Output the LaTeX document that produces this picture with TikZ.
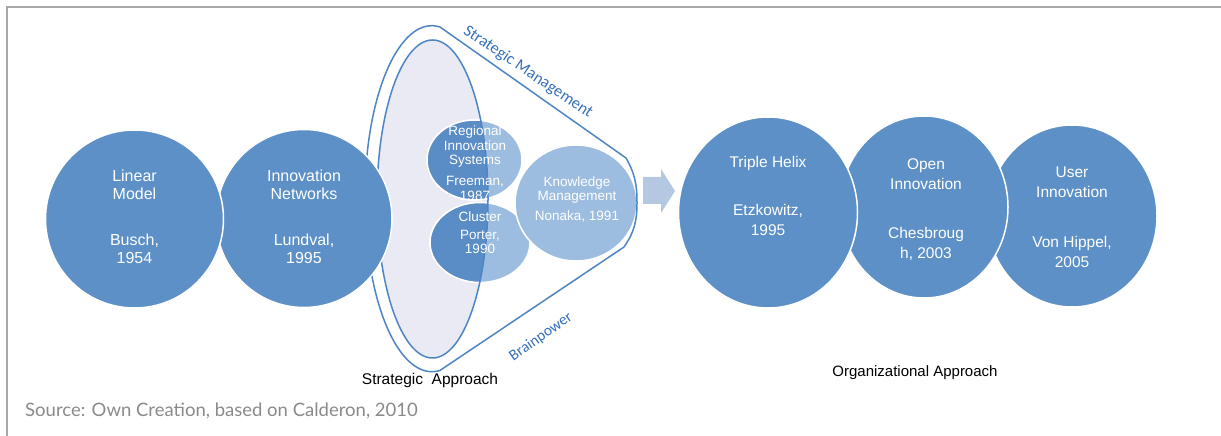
\documentclass[tikz,border=0pt]{standalone}
\usepackage{fontspec}
\setmainfont{Liberation Sans}
\newfontfamily\cali{Carlito}
\newfontfamily\srcfont{Lato}
\usetikzlibrary{shapes.geometric}
\definecolor{cblue}{RGB}{93,144,199}
\definecolor{lblue}{RGB}{157,189,224}
\definecolor{dblue}{RGB}{90,140,197}
\definecolor{innerfill}{RGB}{233,234,243}
\definecolor{fline}{RGB}{78,133,197}
\definecolor{arrowc}{RGB}{181,200,225}
\definecolor{tblue}{RGB}{53,112,186}
\definecolor{framec}{RGB}{168,168,168}
\definecolor{srcc}{RGB}{138,138,138}
\tikzset{
  bub/.style={ellipse, draw=white, line width=1.5pt, fill=cblue, inner sep=0pt, outer sep=0pt},
  lbub/.style={bub, fill=lblue},
  dbub/.style={bub, fill=dblue},
  wtL/.style={text=white, align=center, font=\fontsize{16}{18}\selectfont, inner sep=0pt},
  wtR/.style={text=white, align=center, font=\fontsize{15.5}{20}\selectfont, inner sep=0pt},
  wtS/.style={text=white, align=center, font=\fontsize{13.5}{14.5}\selectfont, inner sep=0pt},
  fun/.style={draw=fline, line width=1.5pt},
  bluetext/.style={text=tblue, font=\cali\fontsize{16.5}{18}\selectfont, inner sep=0pt},
  blacktext/.style={text=black, font=\fontsize{15.5}{17}\selectfont, inner sep=0pt}
}
\begin{document}
\begin{tikzpicture}[x=1pt,y=1pt]
\useasboundingbox (0,0) rectangle (1221,436);
% frame
\draw[framec, line width=1.5pt] (7,0) -- (7,429) -- (1221,429);
% funnel
\fill[white] (440,409) arc[start angle=83, end angle=277, x radius=67, y radius=173] -- (624,189) to[out=55,in=-90] (637,233) to[out=90,in=-60] (626,278) -- cycle;
% inner ellipse
\node[ellipse, fill=innerfill, minimum width=111pt, minimum height=318pt, inner sep=0pt] (inner) at (432.5,237) {};
% regional and cluster
\node[lbub, minimum width=95pt, minimum height=80pt] (reg) at (474.5,276) {};
\node[lbub, minimum width=100pt, minimum height=80pt] (clu) at (480,193.5) {};
\begin{scope}
\clip (432.5,237) ellipse [x radius=55.5, y radius=159];
\node[dbub, minimum width=95pt, minimum height=80pt] (regd) at (474.5,276) {};
\node[dbub, minimum width=100pt, minimum height=80pt] (clud) at (480,193.5) {};
\end{scope}
\draw[fline, line width=1.5pt] (432.5,237) ellipse [x radius=55.5, y radius=159];
% knowledge
\node[lbub, minimum width=122pt, minimum height=116pt] (kno) at (576,233) {};
% funnel outline
\draw[fun] (440,409) arc[start angle=83, end angle=277, x radius=67, y radius=173] -- (624,189) to[out=55,in=-90] (637,233) to[out=90,in=-60] (626,278) -- cycle;
% arrow
\fill[arrowc] (643,259) -- (661,259) -- (661,267) -- (675,245) -- (661,223) -- (661,232) -- (643,232) -- cycle;
% left circles
\node[bub, minimum width=176pt, minimum height=178pt] (inn) at (304,217.5) {};
\node[bub, minimum width=178pt, minimum height=178pt] (lin) at (134.5,217) {};
% right circles
\node[bub, minimum width=170pt, minimum height=182pt] (usr) at (1072,220) {};
\node[bub, minimum width=168pt, minimum height=182pt] (opn) at (924,229) {};
\node[bub, minimum width=179pt, minimum height=191pt] (tri) at (768,223.5) {};
% texts left
\node[wtL] (linT) at (134.5,251) {Linear\\Model};
\node[wtL] (linA) at (134.5,187) {Busch,\\1954};
\node[wtL] (innT) at (304,251) {Innovation\\Networks};
\node[wtL] (innA) at (304,187) {Lundval,\\1995};
% texts middle
\node[wtS] (regT) at (475,289) {Regional\\Innovation\\Systems};
\node[wtS] (regA) at (475,247.5) {Freeman,\\1987};
\node[wtS] (cluT) at (480,219) {Cluster};
\node[wtS] (cluA) at (480,194) {Porter,\\1990};
\node[wtS] (knoT) at (577,246) {Knowledge\\Management};
\node[wtS] (knoA) at (577,220) {Nonaka, 1991};
% texts right
\node[wtR] (triT) at (768,273) {Triple Helix};
\node[wtR] (triA) at (768,216) {Etzkowitz,\\1995};
\node[wtR] (opnT) at (926,262) {Open\\Innovation};
\node[wtR] (opnA) at (926,192.5) {Chesbroug\\h, 2003};
\node[wtR] (usrT) at (1072,254) {User\\Innovation};
\node[wtR] (usrA) at (1072,184) {Von Hippel,\\2005};
% labels
\node[bluetext, rotate=-34] (sm) at (528,364) {Strategic Management};
\node[bluetext, rotate=35, font=\cali\fontsize{15.5}{18}\selectfont] (bp) at (541,99) {Brainpower};
\node[blacktext] (sa) at (430,56) {Strategic\ \ Approach};
\node[blacktext, font=\fontsize{15}{17}\selectfont] (oa) at (915,63) {Organizational Approach};
\node[text=srcc, font=\srcfont\fontsize{18.5}{20}\selectfont, anchor=west, inner sep=0pt] (src) at (25,25) {Source: Own Creation, based on Calderon, 2010};
\end{tikzpicture}
\end{document}
